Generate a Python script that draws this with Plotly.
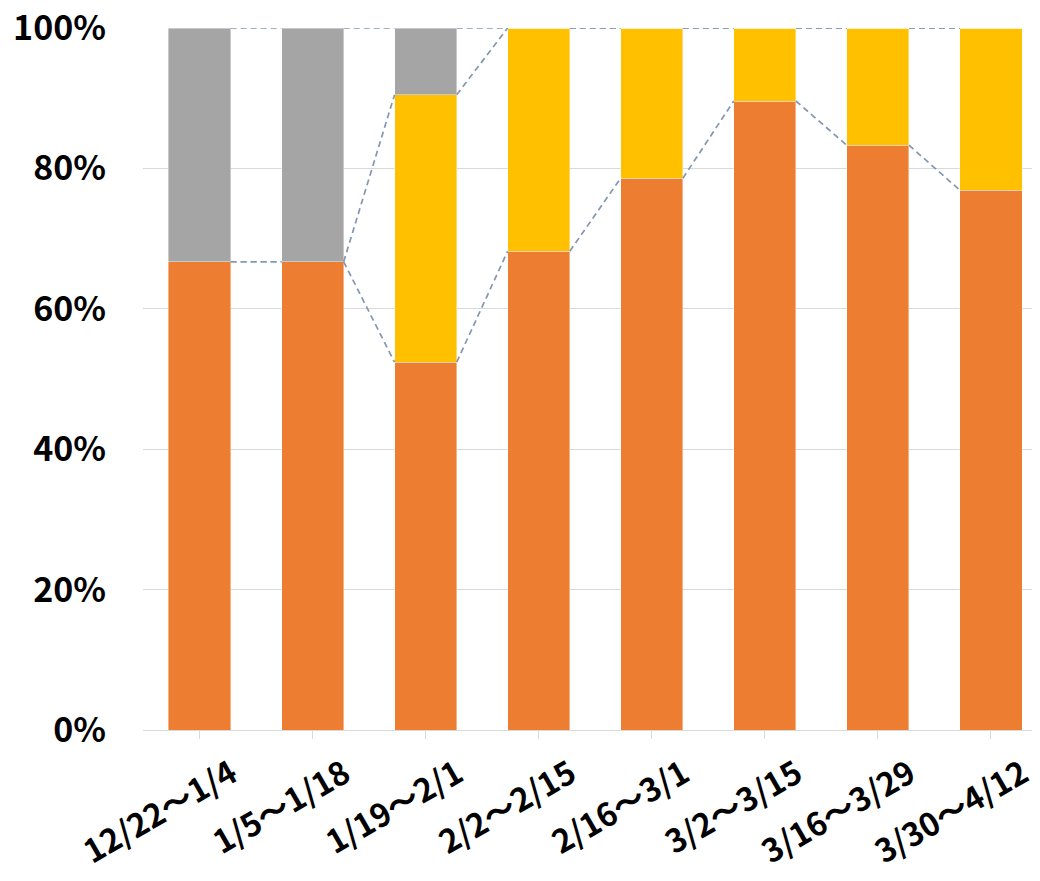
import plotly.graph_objects as go
import numpy as np

categories = ["12/22～1/4", "1/5～1/18", "1/19～2/1", "2/2～2/15",
              "2/16～3/1", "3/2～3/15", "3/16～3/29", "3/30～4/12"]
orange_pct = [66.7, 66.7, 52.4, 68.2, 78.6, 89.6, 83.3, 76.9]
yellow_pct = [0.0, 0.0, 38.1, 31.8, 21.4, 10.4, 16.7, 23.1]
gray_pct = [33.3, 33.3, 9.5, 0.0, 0.0, 0.0, 0.0, 0.0]
y_ticks = [0, 20, 40, 60, 80, 100]
y_tick_labels = ["0%", "20%", "40%", "60%", "80%", "100%"]

series = [
    ("orange", orange_pct, "#ED7D31"),
    ("yellow", yellow_pct, "#FFC000"),
    ("gray", gray_pct, "#A5A5A5"),
]

FONT = "Noto Sans CJK JP"
BAR_W = 0.55
x = np.arange(len(categories))

fig = go.Figure()
for name, vals, color in series:
    fig.add_trace(go.Bar(
        x=x, y=vals, name=name, width=BAR_W,
        marker=dict(color=color, line=dict(color="rgba(255,255,255,0.5)", width=0.8)),
        showlegend=False, hoverinfo="skip",
    ))

# series lines connecting the top of each segment between adjacent bars
cum = np.zeros(len(categories))
for name, vals, color in series:
    cum = cum + np.array(vals)
    for i in range(len(categories) - 1):
        fig.add_trace(go.Scatter(
            x=[x[i] + BAR_W / 2, x[i + 1] - BAR_W / 2],
            y=[min(cum[i], 100), min(cum[i + 1], 100)],
            mode="lines",
            line=dict(color="#8497B0", width=1.7, dash="6px,4px"),
            showlegend=False, hoverinfo="skip",
        ))

fig.update_layout(
    width=1032, height=873,
    margin=dict(l=135, r=0, t=20, b=151, autoexpand=False),
    paper_bgcolor="white", plot_bgcolor="white",
    barmode="stack", bargap=0.45,
    font=dict(family=FONT, color="black"),
)
fig.update_xaxes(
    range=[-0.5, 7.434],
    tickmode="array", tickvals=list(x), ticktext=categories,
    tickangle=-30,
    tickfont=dict(family=FONT, size=32, color="black", weight="bold"),
    ticks="outside", ticklen=8, tickcolor="#D9D9D9", tickwidth=1,
    showline=True, linecolor="#D9D9D9", linewidth=1,
    showgrid=False, zeroline=False,
    ticklabelshift=32, ticklabelstandoff=4,
    ticklabeloverflow="allow", automargin=False,
)
fig.update_yaxes(
    range=[0, 100],
    tickmode="array", tickvals=y_ticks, ticktext=y_tick_labels,
    tickfont=dict(family=FONT, size=34, color="black", weight="bold"),
    showgrid=True, gridcolor="#D9D9D9", gridwidth=1,
    zeroline=False, showline=False, ticks="",
    ticklabelstandoff=36,
    ticklabeloverflow="allow", automargin=False,
)

fig.write_html("out.html")
